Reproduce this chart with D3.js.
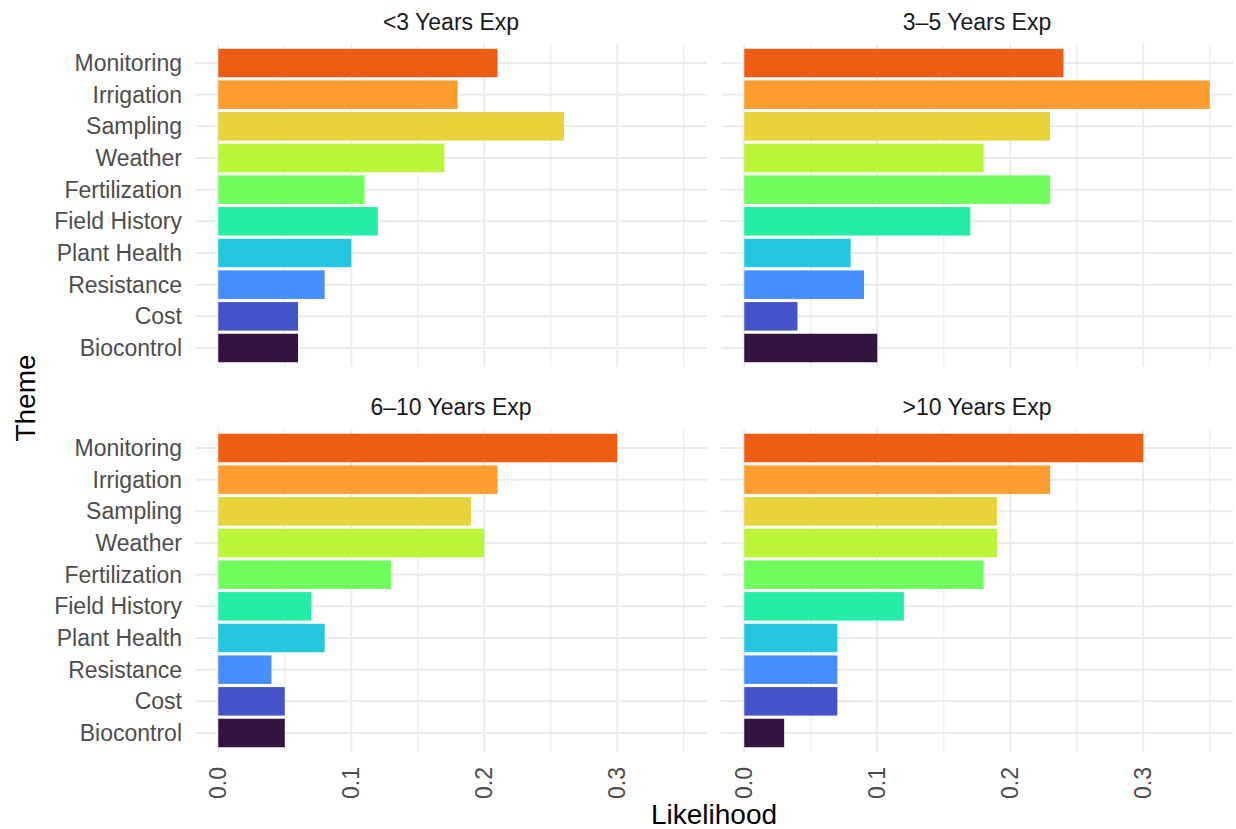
<!DOCTYPE html>
<html>
<head>
<meta charset="utf-8">
<script src="https://cdn.jsdelivr.net/npm/d3@7"></script>
<style>
  body { margin: 0; background: #fff; }
  svg text { font-family: "Liberation Sans", Arial, sans-serif; }
</style>
</head>
<body>
<div id="chart"></div>
<script>
var themes = ['Monitoring', 'Irrigation', 'Sampling', 'Weather', 'Fertilization',
  'Field History', 'Plant Health', 'Resistance', 'Cost', 'Biocontrol'];
var themeColors = ['#EF5C13', '#FE9D2F', '#E9D33B', '#BAF536', '#6FFE5C',
  '#25EDA6', '#25C6E2', '#458EFB', '#4453C7', '#33143E'];
var groups = ['<3 Years Exp', '3\u20135 Years Exp', '6\u201310 Years Exp', '>10 Years Exp'];

// likelihood per theme, same order as themes
var exp0to3 = [0.21, 0.18, 0.26, 0.17, 0.11, 0.12, 0.10, 0.08, 0.06, 0.06];
var exp3to5 = [0.24, 0.35, 0.23, 0.18, 0.23, 0.17, 0.08, 0.09, 0.04, 0.10];
var exp6to10 = [0.30, 0.21, 0.19, 0.20, 0.13, 0.07, 0.08, 0.04, 0.05, 0.05];
var exp10plus = [0.30, 0.23, 0.19, 0.19, 0.18, 0.12, 0.07, 0.07, 0.07, 0.03];
var seriesValues = [exp0to3, exp3to5, exp6to10, exp10plus];

var xTicks = [0, 0.1, 0.2, 0.3];
var xMinor = [0.05, 0.15, 0.25, 0.35];

var width = 1236, height = 829;
var svg = d3.select('#chart').append('svg')
  .attr('width', width)
  .attr('height', height);

// panel boxes (left, top)
var panelW = 512, panelH = 323;
var panelX = [195, 721], panelY = [44, 429];

var maxVal = 0.35, padX = maxVal * 0.05;

seriesValues.forEach(function(vals, i) {
  var px = panelX[i % 2], py = panelY[Math.floor(i / 2)];
  var g = svg.append('g').attr('transform', 'translate(' + px + ',' + py + ')');

  var x = d3.scaleLinear().domain([-padX, maxVal + padX]).range([0, panelW]);
  var y = d3.scalePoint().domain(themes).range([0, panelH]).padding(0.6);
  var bh = y.step() * 0.9;

  // grid
  g.selectAll('.minor').data(xMinor).enter().append('line')
    .attr('x1', function(d) { return x(d); }).attr('x2', function(d) { return x(d); })
    .attr('y1', 0).attr('y2', panelH)
    .style('stroke', '#EBEBEB').style('stroke-width', 1);
  g.selectAll('.major').data(xTicks).enter().append('line')
    .attr('x1', function(d) { return x(d); }).attr('x2', function(d) { return x(d); })
    .attr('y1', 0).attr('y2', panelH)
    .style('stroke', '#EBEBEB').style('stroke-width', 2);
  g.selectAll('.hgrid').data(themes).enter().append('line')
    .attr('x1', 0).attr('x2', panelW)
    .attr('y1', function(d) { return y(d); }).attr('y2', function(d) { return y(d); })
    .style('stroke', '#EBEBEB').style('stroke-width', 2);

  // bars
  g.selectAll('rect').data(vals).enter().append('rect')
    .attr('x', x(0))
    .attr('y', function(d, j) { return y(themes[j]) - bh / 2; })
    .attr('width', function(d) { return x(d) - x(0); })
    .attr('height', bh)
    .style('fill', function(d, j) { return themeColors[j]; });

  // strip title
  g.append('text')
    .attr('x', panelW / 2).attr('y', -22)
    .attr('text-anchor', 'middle').attr('dominant-baseline', 'central')
    .style('font-size', '23px').style('fill', '#1A1A1A')
    .text(groups[i]);

  // y labels only on left column
  if (i % 2 === 0) {
    g.selectAll('.ylab').data(themes).enter().append('text')
      .attr('x', -13)
      .attr('y', function(d) { return y(d); })
      .attr('text-anchor', 'end').attr('dominant-baseline', 'central')
      .style('font-size', '23px').style('fill', '#4D4D4D')
      .text(function(d) { return d; });
  }

  // x labels only on bottom row
  if (i >= 2) {
    g.selectAll('.xlab').data(xTicks).enter().append('text')
      .attr('transform', function(d) { return 'translate(' + x(d) + ',' + (panelH + 15) + ') rotate(-90)'; })
      .attr('text-anchor', 'end').attr('dominant-baseline', 'central')
      .style('font-size', '23px').style('fill', '#4D4D4D')
      .text(function(d) { return d3.format('.1f')(d); });
  }
});

// axis titles
svg.append('text')
  .attr('x', (panelX[0] + panelX[1] + panelW) / 2).attr('y', 824)
  .attr('text-anchor', 'middle')
  .style('font-size', '28px').style('fill', '#000')
  .text('Likelihood');

svg.append('text')
  .attr('transform', 'translate(35,' + (panelY[0] + panelY[1] + panelH) / 2 + ') rotate(-90)')
  .attr('text-anchor', 'middle')
  .style('font-size', '28px').style('fill', '#000')
  .text('Theme');
</script>
</body>
</html>
